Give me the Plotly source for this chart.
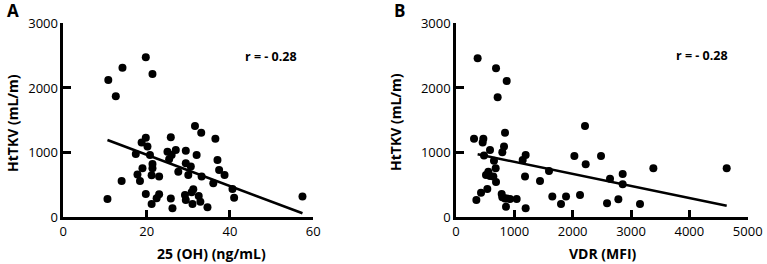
import plotly.graph_objects as go

# Panel A: 25(OH) vitamin D (ng/mL) vs HtTKV (mL/m)
a_x = [10.6, 10.8, 12.6, 14.2, 14.0, 19.8, 21.4, 17.4, 17.8, 18.4, 19.0, 18.8, 19.8, 20.2,
       19.8, 20.8, 21.4, 21.4, 21.2, 21.2, 23.0, 22.4, 23.0, 25.8, 26.2, 25.8, 25.0, 26.0,
       25.4, 27.0, 27.6, 29.4, 29.4, 30.0, 30.6, 29.2, 29.4, 30.8, 31.2, 31.0, 31.6, 32.0,
       32.5, 32.9, 33.1, 33.2, 34.6, 36.0, 36.5, 37.0, 37.4, 38.7, 40.6, 41.0, 57.4]
a_y = [283, 2124, 1871, 2314, 562, 2474, 2216, 979, 660, 562, 758, 1155, 1232, 1093,
       361, 964, 825, 758, 649, 206, 629, 294, 356, 289, 139, 1237, 1015, 964,
       897, 1041, 706, 1031, 835, 655, 784, 345, 268, 387, 433, 206, 1412, 964,
       330, 242, 1309, 629, 155, 526, 1216, 887, 732, 655, 438, 304, 320]
fitA_x = [10.6, 57.4]
fitA_y = [1196, 62]

# Panel B: VDR (MFI) vs HtTKV (mL/m)
b_x = [371, 686, 869, 714, 309, 469, 457, 840, 823, 794, 583, 480, 651, 680, 554, 583,
       514, 640, 686, 537, 429, 349, 783, 794, 840, 869, 926, 1040, 857, 1194, 1183, 1143,
       1194, 1594, 1440, 1651, 1800, 1886, 2029, 2126, 2211, 2223, 2486, 2589, 2640, 2783,
       2857, 2857, 3154, 3383, 4640]
b_y = [2459, 2304, 2108, 1856, 1216, 1216, 1155, 1309, 1093, 1005, 1041, 954, 876, 758, 706, 639,
       655, 629, 546, 438, 381, 268, 361, 309, 289, 289, 283, 283, 165, 139, 629, 887,
       964, 716, 562, 320, 206, 320, 948, 345, 1412, 820, 948, 216, 598, 278,
       670, 510, 206, 758, 758]
fitB_x = [371, 4640]
fitB_y = [974, 180]

xticksA = [0, 20, 40, 60]
xticksB = [0, 1000, 2000, 3000, 4000, 5000]
yticks = [0, 1000, 2000, 3000]

r_label = "r = - 0.28"
xtitleA = "25 (OH) (ng/mL)"
xtitleB = "VDR (MFI)"
ytitle = "HtTKV (mL/m)"

W, H = 767, 264
def px(x): return x / W
def py(y): return 1 - y / H

TICKF = dict(family="Open Sans, Arial, sans-serif", size=13, color="black")
BOLDF = "Open Sans, Arial, sans-serif"

fig = go.Figure()
fig.add_trace(go.Scatter(x=a_x, y=a_y, mode="markers", marker=dict(color="black", size=8),
                         xaxis="x", yaxis="y", cliponaxis=False, showlegend=False))
fig.add_trace(go.Scatter(x=fitA_x, y=fitA_y, mode="lines", line=dict(color="black", width=2.5),
                         xaxis="x", yaxis="y", showlegend=False))
fig.add_trace(go.Scatter(x=b_x, y=b_y, mode="markers", marker=dict(color="black", size=8),
                         xaxis="x2", yaxis="y2", cliponaxis=False, showlegend=False))
fig.add_trace(go.Scatter(x=fitB_x, y=fitB_y, mode="lines", line=dict(color="black", width=2.5),
                         xaxis="x2", yaxis="y2", showlegend=False))

ydom = [py(217.3), py(23.3)]
common = dict(showline=True, linecolor="black", linewidth=2.5, ticks="inside", ticklen=8,
              tickwidth=2.5, tickcolor="black", showgrid=False, zeroline=False,
              tickfont=TICKF, automargin=False, mirror=False, layer="above traces")

fig.update_layout(
    template="none",
    width=W, height=H, margin=dict(l=0, r=0, t=0, b=0, pad=0),
    paper_bgcolor="white", plot_bgcolor="white",
    xaxis=dict(domain=[px(63.3), px(313.3)], range=[xticksA[0], xticksA[-1]],
               tickvals=xticksA, anchor="y", **common),
    yaxis=dict(domain=ydom, range=[yticks[0], yticks[-1]], tickvals=yticks,
               anchor="x", **common),
    xaxis2=dict(domain=[px(456), px(747.7)], range=[xticksB[0], xticksB[-1]],
                tickvals=xticksB, anchor="y2", **common),
    yaxis2=dict(domain=ydom, range=[yticks[0], yticks[-1]], tickvals=yticks,
                anchor="x2", **common),
)

ann = []
def txt(t, x, y, size, angle=0):
    ann.append(dict(text=t, x=px(x), y=py(y), xref="paper", yref="paper", showarrow=False,
                    xanchor="center", yanchor="middle", textangle=angle,
                    font=dict(family=BOLDF, size=size, color="black", weight="bold")))

txt("A", 13, 11, 17)
txt("B", 399, 11, 17)
txt(r_label, 271, 56, 12.5)
txt(r_label, 702, 55, 12.5)
txt(xtitleA, 211, 253, 14)
txt(xtitleB, 603, 253, 14)
txt(ytitle, 13, 123, 14, -90)
txt(ytitle, 395, 122, 14, -90)
fig.update_layout(annotations=ann)

fig.write_html("out.html", config={"displayModeBar": False},
               post_script="document.body.style.margin='0px';")
